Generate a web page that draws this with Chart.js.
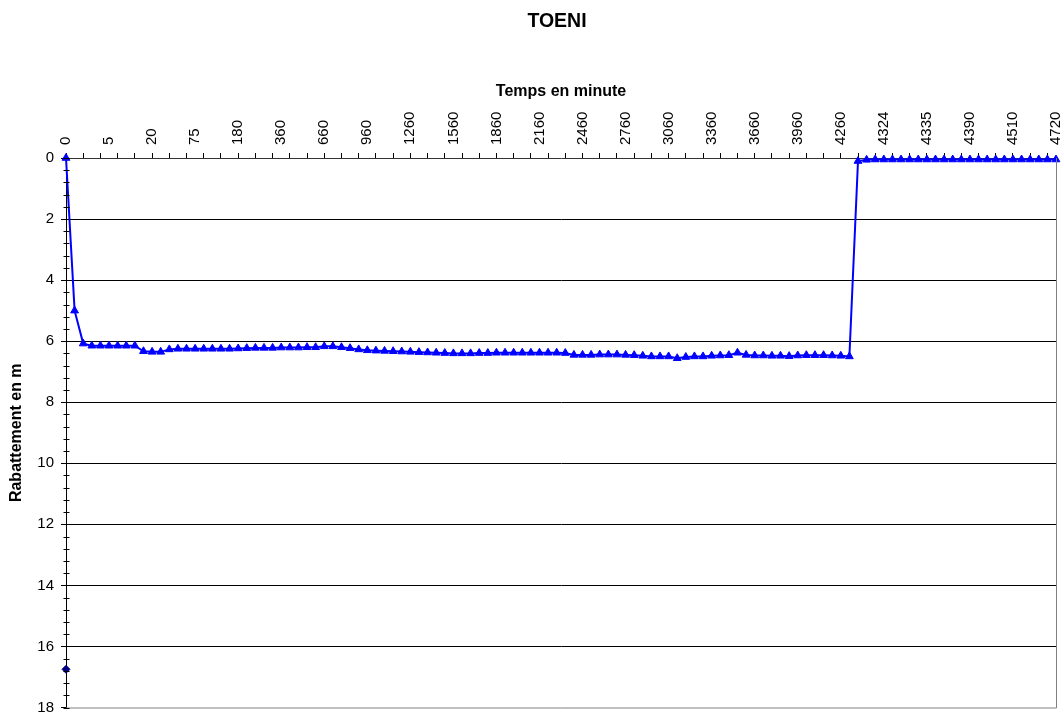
<!DOCTYPE html>
<html>
<head>
<meta charset="utf-8">
<script src="https://cdn.jsdelivr.net/npm/chart.js@4/dist/chart.umd.min.js"></script>
<style>
  html, body { margin: 0; padding: 0; background: #fff; }
  #wrap { width: 1064px; height: 713px; }
</style>
</head>
<body>
<div id="wrap"><canvas id="toeniChart"></canvas></div>
<script>
// temps (min) - one category per measurement
const timeLabels = [
    '0', '1', '2', '3', '4', '5', '6', '8', '10', '15',
    '20', '30', '40', '50', '60', '75', '90', '105', '120', '150',
    '180', '210', '240', '270', '300', '360', '420', '480', '540', '600',
    '660', '720', '780', '840', '900', '960', '1020', '1080', '1140', '1200',
    '1260', '1320', '1380', '1440', '1500', '1560', '1620', '1680', '1740', '1800',
    '1860', '1920', '1980', '2040', '2100', '2160', '2220', '2280', '2340', '2400',
    '2460', '2520', '2580', '2640', '2700', '2760', '2820', '2880', '2940', '3000',
    '3060', '3120', '3180', '3240', '3300', '3360', '3420', '3480', '3540', '3600',
    '3660', '3720', '3780', '3840', '3900', '3960', '4020', '4080', '4140', '4200',
    '4260', '4320', '4321', '4322', '4323', '4324', '4326', '4328', '4330', '4332',
    '4335', '4340', '4350', '4360', '4375', '4390', '4420', '4440', '4460', '4480',
    '4510', '4540', '4570', '4600', '4660', '4720'
];

// rabattement (m)
const drawdown = [
    0, 5.0, 6.08, 6.15, 6.15, 6.15, 6.15, 6.15, 6.15, 6.33,
    6.35, 6.35, 6.27, 6.25, 6.25, 6.25, 6.25, 6.25, 6.25, 6.25,
    6.24, 6.23, 6.22, 6.22, 6.22, 6.21, 6.21, 6.21, 6.2, 6.2,
    6.17, 6.17, 6.2, 6.23, 6.27, 6.3, 6.31, 6.32, 6.33, 6.34,
    6.35, 6.36, 6.37, 6.38, 6.39, 6.4, 6.4, 6.4, 6.39, 6.39,
    6.38, 6.38, 6.38, 6.38, 6.38, 6.38, 6.38, 6.38, 6.39, 6.45,
    6.45, 6.45, 6.44, 6.44, 6.44, 6.45, 6.46, 6.48, 6.5, 6.5,
    6.5, 6.56, 6.52, 6.5, 6.5, 6.48, 6.47, 6.46, 6.38, 6.45,
    6.47, 6.47, 6.48, 6.48, 6.49, 6.47, 6.46, 6.46, 6.46, 6.47,
    6.48, 6.5, 0.1, 0.06, 0.05, 0.05, 0.05, 0.05, 0.05, 0.05,
    0.05, 0.05, 0.05, 0.05, 0.05, 0.05, 0.05, 0.05, 0.05, 0.05,
    0.05, 0.05, 0.05, 0.05, 0.05, 0.05
];

// point isole (losange)
const staticTime = ['0'];
const staticLevel = [16.75];

const yTicks = [0, 2, 4, 6, 8, 10, 12, 14, 16, 18];

const FONT = 'Arial, "Liberation Sans", sans-serif';

const plotFrame = {
    id: 'plotFrame',
    afterDraw(chart) {
        const { ctx, chartArea, scales } = chart;
        ctx.save();
        // titre du graphique
        ctx.fillStyle = '#000';
        ctx.font = 'bold 19.5px ' + FONT;
        ctx.textAlign = 'center';
        ctx.textBaseline = 'middle';
        ctx.fillText('TOENI', (chartArea.left + chartArea.right) / 2 - 4, 22);
        // bordure de la zone de traçage
        ctx.strokeStyle = '#808080';
        ctx.lineWidth = 1;
        ctx.beginPath();
        ctx.moveTo(chartArea.left, chartArea.bottom + 0.5);
        ctx.lineTo(chartArea.right + 0.5, chartArea.bottom + 0.5);
        ctx.lineTo(chartArea.right + 0.5, chartArea.top);
        ctx.stroke();
        // graduations secondaires de l'axe vertical
        ctx.strokeStyle = '#000';
        const x = Math.round(chartArea.left) + 0.5;
        for (let i = 0; i <= 45; i++) {
            const y = Math.round(scales.y.getPixelForValue(i * 0.4)) + 0.5;
            ctx.beginPath();
            ctx.moveTo(x - 3, y);
            ctx.lineTo(x + 3, y);
            ctx.stroke();
        }
        ctx.restore();
    }
};

function drawChart() {
    const ctx = document.getElementById('toeniChart').getContext('2d');

    new Chart(ctx, {
        type: 'line',
        data: {
            labels: timeLabels,
            datasets: [{
                label: 'Rabattement',
                data: drawdown,
                borderColor: '#0000FF',
                backgroundColor: '#0000FF',
                borderWidth: 2,
                pointStyle: 'triangle',
                pointRadius: 4.5,
                pointBorderWidth: 1,
                tension: 0,
                clip: false
            }, {
                label: 'Niveau',
                data: staticTime.map((t, i) => ({ x: t, y: staticLevel[i] })),
                borderColor: '#000080',
                backgroundColor: '#000080',
                showLine: false,
                pointStyle: 'rectRot',
                pointRadius: 4,
                clip: false
            }]
        },
        options: {
            responsive: true,
            maintainAspectRatio: false,
            animation: false,
            layout: { padding: { left: 0, right: 6, top: 38.4, bottom: 5 } },
            plugins: {
                legend: { display: false },
                tooltip: { enabled: false },
                title: { display: false }
            },
            scales: {
                x: {
                    type: 'category',
                    position: 'top',
                    offset: false,
                    afterFit: (scale) => { scale.height = 119.6; },
                    title: {
                        display: true,
                        text: 'Temps en minute',
                        color: '#000',
                        font: { family: FONT, size: 16, weight: 'bold' },
                        padding: { top: 44, bottom: 0 }
                    },
                    border: { display: true, color: '#333', width: 1 },
                    grid: {
                        drawOnChartArea: false,
                        drawTicks: true,
                        tickLength: 5,
                        color: (c) => (c.index % 2 === 0 ? '#000' : 'rgba(0,0,0,0)')
                    },
                    ticks: {
                        autoSkip: false,
                        maxRotation: 90,
                        minRotation: 90,
                        padding: 8,
                        labelOffset: 18,
                        color: '#000',
                        font: { family: FONT, size: 15 },
                        callback: function (value, index) {
                            return index % 5 === 0 ? this.getLabelForValue(value) : '';
                        }
                    }
                },
                y: {
                    type: 'linear',
                    reverse: true,
                    min: 0,
                    max: 18,
                    afterFit: (scale) => {
                        scale.width = 66;
                        scale.paddingTop = 0;
                        scale.paddingBottom = 0;
                    },
                    afterBuildTicks: (scale) => { scale.ticks = yTicks.map(v => ({ value: v })); },
                    title: {
                        display: true,
                        text: 'Rabattement en m',
                        color: '#000',
                        font: { family: FONT, size: 16, weight: 'bold' },
                        padding: { top: 7, bottom: 0 }
                    },
                    border: { display: true, color: '#000', width: 1 },
                    grid: {
                        color: (c) => (c.tick.value === 0 || c.tick.value === 18 ? 'rgba(0,0,0,0)' : '#000'),
                        tickColor: '#000',
                        tickLength: 5,
                        lineWidth: 1
                    },
                    ticks: {
                        padding: 7,
                        color: '#000',
                        font: { family: FONT, size: 15 }
                    }
                }
            }
        },
        plugins: [plotFrame]
    });
}

document.addEventListener('DOMContentLoaded', drawChart);
</script>
</body>
</html>
